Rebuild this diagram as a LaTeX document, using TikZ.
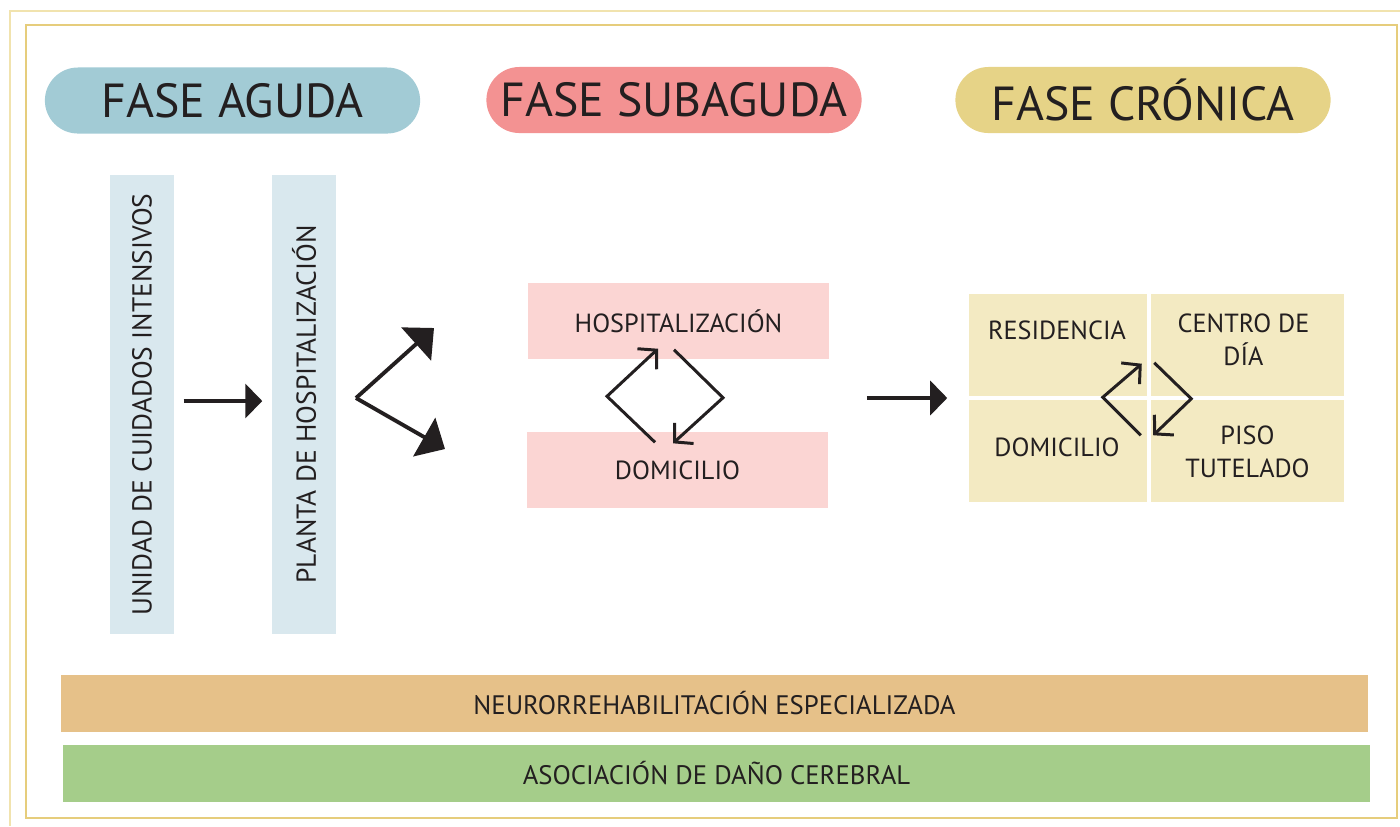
\documentclass[tikz,border=0pt]{standalone}
\usepackage{fontspec}
\setmainfont{PT Sans}
\usetikzlibrary{arrows.meta,calc}
\definecolor{framegold}{HTML}{E6CD7C}
\definecolor{framepale}{HTML}{F1E3AE}
\definecolor{agudablue}{HTML}{A2CBD5}
\definecolor{subpink}{HTML}{F39292}
\definecolor{cronyellow}{HTML}{E6D387}
\definecolor{barblue}{HTML}{D9E8EE}
\definecolor{boxpink}{HTML}{FBD5D3}
\definecolor{cellyellow}{HTML}{F3EAC2}
\definecolor{neuroorange}{HTML}{E6C189}
\definecolor{asocgreen}{HTML}{A5CD8A}
\definecolor{inkdark}{HTML}{231F20}
\tikzset{
  fase/.style={rounded corners=3.3mm, minimum width=3.75cm, minimum height=6.6mm, inner sep=0pt, text=inkdark, font=\fontsize{13.6}{16}\selectfont},
  vbar/.style={fill=barblue, rotate=90, minimum width=4.59cm, minimum height=6.4mm, inner sep=0pt, text=inkdark, font=\fontsize{7.8}{9}\selectfont},
  sbox/.style={fill=boxpink, minimum width=3.01cm, minimum height=7.6mm, inner sep=0pt, text=inkdark, font=\fontsize{7.45}{9}\selectfont},
  cell/.style={fill=cellyellow, minimum height=1.02cm, inner sep=0pt},
  celltext/.style={inner sep=0pt, align=center, text=inkdark, font=\fontsize{7.45}{9.4}\selectfont},
  band/.style={minimum width=13.07cm, minimum height=5.7mm, inner sep=0pt, text=inkdark, font=\fontsize{7.6}{9}\selectfont},
  bigarrow/.style={draw=inkdark, line width=1.1pt, -{Triangle[length=1.7mm,width=3.4mm]}},
  forkarrow/.style={draw=inkdark, line width=1.1pt, line join=miter, -{Triangle[length=2.4mm,width=4.4mm]}},
  cyclearrow/.style={draw=inkdark, line width=0.85pt, line join=miter, -{Straight Barb[length=1.3mm,width=2.8mm]}}
}
\begin{document}
\begin{tikzpicture}[x=0.01cm, y=-0.01cm]
    \useasboundingbox (0,0) rectangle (1400,826);
    \draw[framepale, line width=0.6pt] (10,826) -- (10,11) -- (1400,11);
    \draw[framegold, line width=0.6pt] (26,25) rectangle (1397,818);
    \node[fase, fill=agudablue] at (232.5,100.5) (aguda) {FASE AGUDA};
    \node[fase, fill=subpink] at (674,100) (subaguda) {FASE SUBAGUDA};
    \node[fase, fill=cronyellow] at (1143,100) (cronica) {FASE CRÓNICA};
    \node[vbar] at (142,404.5) (uci) {UNIDAD DE CUIDADOS INTENSIVOS};
    \node[vbar] at (304,404.5) (planta) {PLANTA DE HOSPITALIZACIÓN};
    \draw[bigarrow] ([xshift=0.09cm,yshift=0.035cm]uci.south) -- ([xshift=-0.09cm,yshift=0.035cm]planta.north);
    \coordinate (fork) at (356,398);
    \coordinate (forkup) at (434,328);
    \coordinate (forkdown) at (445,449);
    \draw[forkarrow] (fork) -- (forkup);
    \draw[forkarrow] (fork) -- (forkdown);
    \node[sbox] at (678.5,321) (hosp) {HOSPITALIZACIÓN};
    \node[sbox] at (677.5,470) (dom) {DOMICILIO};
    \draw[cyclearrow] ($(dom.north)+(-22.5,11)$) -- ($(dom.north)+(-70.5,-35)$) -- ($(hosp.south)+(-20.5,-11)$);
    \draw[cyclearrow] ($(hosp.south)+(-4.5,-10)$) -- ($(hosp.south)+(44.5,38)$) -- ($(dom.north)+(-4.5,12)$);
    \node[cell, minimum width=1.78cm] at (1058,345) (res) {};
    \node[cell, minimum width=1.93cm] at (1247.5,345) (cdia) {};
    \node[cell, minimum width=1.78cm] at (1058,451) (cdom) {};
    \node[cell, minimum width=1.93cm] at (1247.5,451) (piso) {};
    \draw[bigarrow] ([xshift=0.38cm]dom.east |- fork) -- ([xshift=-0.21cm]res.west |- fork);
    \node[celltext] at ($(res)+(-1,-15)$) (resname) {RESIDENCIA};
    \node[celltext] at ($(cdia)+(-4,-5)$) (cdianame) {CENTRO DE\\DÍA};
    \node[celltext] at ($(cdom)+(-1,-4)$) (cdomname) {DOMICILIO};
    \node[celltext] at ($(piso)+(0,1)$) (pisoname) {PISO\\TUTELADO};
    \draw[cyclearrow] ($(cdom.north east)+(-7,36)$) -- ($(cdom.north east)+(-45,-2)$) -- ($(res.south east)+(-6,-33)$);
    \draw[cyclearrow] ($(cdia.south west)+(4,-34)$) -- ($(cdia.south west)+(41,2)$) -- ($(piso.north west)+(3,36)$);
    \node[band, fill=neuroorange] at (714.5,703.5) (neuro) {NEURORREHABILITACIÓN ESPECIALIZADA};
    \node[band, fill=asocgreen] at (716.5,773.5) (asoc) {ASOCIACIÓN DE DAÑO CEREBRAL};
\end{tikzpicture}
\end{document}
